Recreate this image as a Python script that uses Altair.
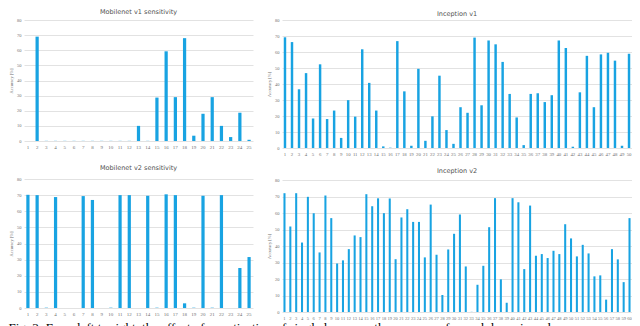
import altair as alt
import pandas as pd

# ---- data (accuracy in %, one value per quantized layer) ----
mobilenet_v1 = [0, 69, 0.1, 0.1, 0.1, 0.1, 0.1, 0.1, 0.1, 0.1, 0.1, 0.1, 10, 0.1, 28.7,
                59.3, 29, 68, 3.5, 18, 29, 10, 2.6, 18.7, 0.8]
mobilenet_v2 = [70.2, 70, 0.2, 68.8, 0, 0, 69.4, 67, 0, 0.2, 70, 70, 0, 69.6, 0.2,
                70.5, 70, 2.9, 0.2, 69.6, 0.2, 70, 0, 24.8, 31.6]
inception_v1 = [69.2, 66.2, 36.7, 46.8, 18.5, 52.3, 18.1, 23.4, 6.3, 29.9, 19.6, 61.7,
                40.7, 23.4, 1.0, 0.2, 66.8, 35.4, 1.4, 49.5, 4.5, 19.8, 45.2, 11.2, 2.6,
                25.5, 22.0, 69.0, 26.7, 67.2, 64.8, 53.8, 33.8, 19.1, 1.8, 33.8, 34.2,
                28.7, 33.0, 67.2, 62.5, 0.8, 34.8, 57.6, 25.5, 58.5, 59.5, 54.6, 1.4, 58.9]
inception_v2 = [72.0, 51.8, 72.0, 42.1, 69.8, 59.9, 36.1, 70.6, 56.9, 29.4, 31.3, 38.1,
                46.4, 45.4, 71.4, 64.1, 68.9, 59.9, 68.8, 32.0, 57.3, 62.3, 54.6, 54.6,
                33.1, 65.1, 34.7, 10.3, 37.9, 47.4, 59.1, 27.6, 0.1, 16.5, 28.0, 51.4,
                69.0, 19.8, 5.6, 69.0, 66.5, 26.0, 64.5, 34.1, 35.1, 32.7, 37.1, 35.1,
                53.2, 44.6, 33.7, 40.7, 35.5, 21.6, 22.2, 7.5, 38.1, 31.9, 18.1, 56.9]

titles = ["Mobilenet v1 sensitivity", "Inception v1", "Mobilenet v2 sensitivity", "Inception v2"]
y_ticks = [0, 10, 20, 30, 40, 50, 60, 70, 80]
y_title = "Accuracy [%]"
caption = ("Fig. 3: From left to right, the effect of quantization of single layers on the "
           "accuracy, for each layer in order")

BLUE = "#18a3e2"
FONT = "Liberation Sans Narrow"


def panel(vals, title, width, height, title_offset, xfs):
    df = pd.DataFrame({"layer": list(range(1, len(vals) + 1)), "acc": vals})
    return alt.Chart(df).mark_bar(color=BLUE).encode(
        x=alt.X("layer:O", title=None,
                scale=alt.Scale(paddingInner=0.65, paddingOuter=0.25),
                axis=alt.Axis(labelAngle=0, labelFontSize=xfs, ticks=False, domain=False,
                              labelPadding=3, labelOverlap=False, grid=False,
                              labelColor="#707070", labelFont=FONT)),
        y=alt.Y("acc:Q", title=y_title,
                scale=alt.Scale(domain=[0, 80], nice=False),
                axis=alt.Axis(values=y_ticks, labelFontSize=4.5, titleFontSize=4.5,
                              ticks=False, domain=False, labelPadding=3, titlePadding=3,
                              gridColor="#e2e2e2", gridWidth=1, labelColor="#707070",
                              titleColor="#707070", titleFontWeight="normal",
                              labelFont=FONT, titleFont=FONT)),
    ).properties(
        width=width, height=height,
        title=alt.TitleParams(title, fontSize=6.5, font="DejaVu Sans", fontWeight="normal",
                              color="#505050", offset=title_offset),
    )


tl = panel(mobilenet_v1, titles[0], 229, 121, 2, 5)
tr = panel(inception_v1, titles[1], 350, 128, 0, 4.8)
bl = panel(mobilenet_v2, titles[2], 229, 129, 5, 5)
br = panel(inception_v2, titles[3], 350, 132, 3, 4.5)

chart = alt.hconcat(
    alt.vconcat(tl, bl, spacing=15),
    alt.vconcat(tr, br, spacing=11),
    spacing=13,
).properties(
    padding={"left": 0, "top": 0, "right": 0, "bottom": 0},
    title=alt.TitleParams(caption, orient="bottom", anchor="start", fontSize=13,
                          font="Liberation Serif", fontWeight="normal", color="black",
                          offset=2),
).configure_view(stroke=None)

chart.save("out.html", embed_options={"renderer": "svg", "actions": False})
